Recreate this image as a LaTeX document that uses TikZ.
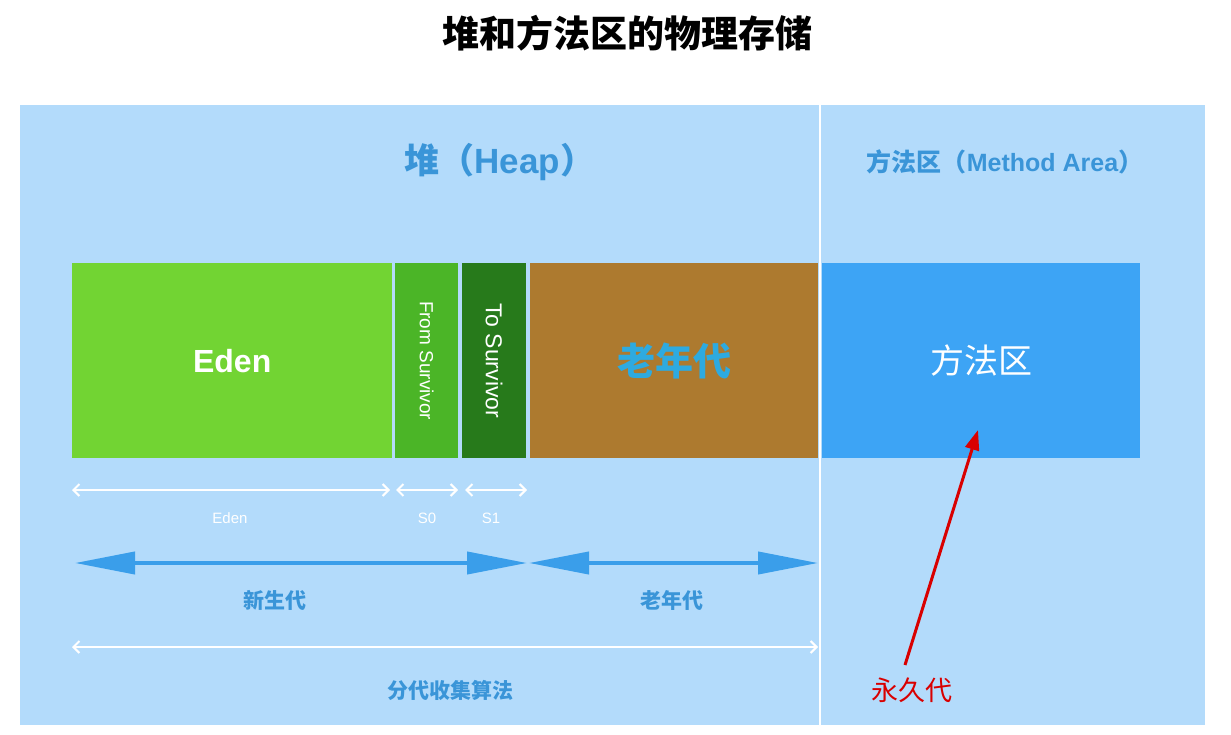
\documentclass[tikz,border=0pt]{standalone}
\usepackage{fontspec}
\setmainfont{Noto Sans CJK SC}
\newfontfamily\lat{Liberation Sans}
\usetikzlibrary{arrows.meta}
\definecolor{bgblue}{HTML}{B3DBFB}
\definecolor{eden}{HTML}{72D433}
\definecolor{sfrom}{HTML}{4BB527}
\definecolor{sto}{HTML}{277A1B}
\definecolor{old}{HTML}{AD7A2F}
\definecolor{meth}{HTML}{3DA4F5}
\definecolor{lbl}{HTML}{3A95D8}
\definecolor{arr}{HTML}{3A9EEA}
\tikzset{
  blk/.style={draw=none,inner sep=0pt,anchor=north west},
  wtxt/.style={text=white},
  warr/.style={draw=white,line width=2pt,{Straight Barb[length=6pt,width=12pt]}-{Straight Barb[length=6pt,width=12pt]}},
  barr/.style={draw=arr,line width=4pt,{Triangle[length=60pt,width=22pt]}-{Triangle[length=60pt,width=22pt]}},
  lab/.style={text=lbl,font=\fontsize{21}{21}\selectfont\bfseries}
}
\begin{document}
\begin{tikzpicture}[x=1pt,y=-1pt]
\fill[white] (0,0) rectangle (1231,735);
\useasboundingbox (0,0) rectangle (1231,735);
\node (title) at (627,33) {\fontsize{37}{37}\selectfont\bfseries 堆和方法区的物理存储};
\fill[bgblue] (20,105) rectangle (1205,725);
\draw[white,line width=2pt] (820,105) -- (820,725);
\node[text=lbl] (heap) at (500,162) {\fontsize{35}{35}\selectfont\bfseries 堆（{\lat Heap}）};
\node[text=lbl] (ma) at (1005,162) {\fontsize{25}{25}\selectfont\bfseries 方法区（{\lat Method Area}）};
\node[blk,fill=eden,minimum width=320pt,minimum height=195pt] (eden) at (72,263) {};
\node[blk,fill=sfrom,minimum width=63pt,minimum height=195pt] (from) at (395,263) {};
\node[blk,fill=sto,minimum width=64pt,minimum height=195pt] (to) at (462,263) {};
\node[blk,fill=old,minimum width=288pt,minimum height=195pt] (old) at (530,263) {};
\node[blk,fill=meth,minimum width=318pt,minimum height=195pt] (meth) at (822,263) {};
\node[wtxt] at (eden.center) {\fontsize{32}{32}\selectfont\lat\bfseries Eden};
\node[wtxt,rotate=-90] at (from.center) {\fontsize{19}{19}\selectfont\lat From Survivor};
\node[wtxt,rotate=-90] at (to.center) {\fontsize{23}{23}\selectfont\lat To Survivor};
\node[text=lbl!80!cyan] at (old.center) {\fontsize{38}{38}\selectfont\bfseries 老年代};
\node[wtxt] at (meth.center) {\fontsize{34}{34}\selectfont 方法区};
\coordinate (e1) at (72,490); \coordinate (e2) at (390,490);
\coordinate (s01) at (396,490); \coordinate (s02) at (458,490);
\coordinate (s11) at (465,490); \coordinate (s12) at (527,490);
\draw[warr] (e1) -- (e2);
\draw[warr] (s01) -- (s02);
\draw[warr] (s11) -- (s12);
\node[wtxt,font=\fontsize{15}{15}\selectfont\lat] at (230,518) {Eden};
\node[wtxt,font=\fontsize{15}{15}\selectfont\lat] at (427,518) {S0};
\node[wtxt,font=\fontsize{15}{15}\selectfont\lat] at (491,518) {S1};
\coordinate (y1) at (75,563); \coordinate (y2) at (527,563);
\coordinate (o1) at (529,563); \coordinate (o2) at (818,563);
\draw[barr] (y1) -- (y2);
\draw[barr] (o1) -- (o2);
\node[lab] at (275,600) {新生代};
\node[lab] at (672,600) {老年代};
\coordinate (g1) at (72,647); \coordinate (g2) at (818,647);
\draw[warr] (g1) -- (g2);
\node[lab] at (450,690) {分代收集算法};
\coordinate (r1) at (905,665);
\draw[red!85!black,line width=3pt,-{Triangle[length=20pt,width=14pt]}] (r1) -- (978,430);
\node[text=red!85!black,font=\fontsize{27}{27}\selectfont] at (912,690) {永久代};
\end{tikzpicture}
\end{document}
